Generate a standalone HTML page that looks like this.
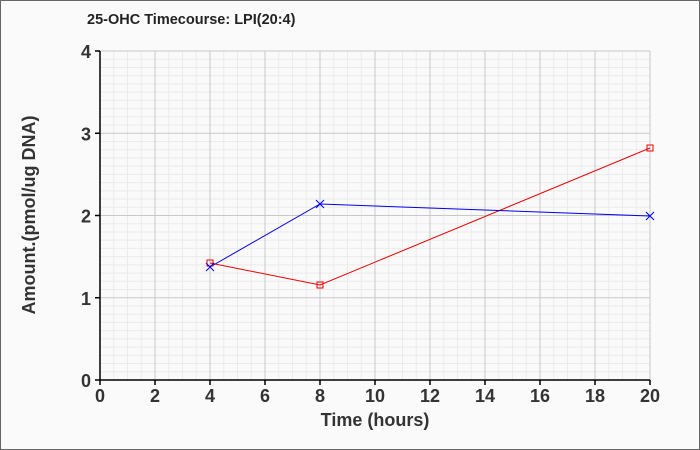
<!DOCTYPE html>
<html><head><meta charset="utf-8"><style>
html,body{margin:0;padding:0;background:#fafafa;}
svg{display:block;font-family:"Liberation Sans",Arial,sans-serif;}
</style></head><body>
<svg width="700" height="450" viewBox="0 0 700 450" xmlns="http://www.w3.org/2000/svg">
<rect x="0.5" y="0.5" width="699" height="449" fill="#fafafa" stroke="#666"/>
<g id="minor" stroke="#ebebeb" stroke-width="1"></g>
<g id="major" stroke="#c8c8c8" stroke-width="1"></g>
<g stroke="#000" stroke-width="1.5">
<line x1="100" y1="51" x2="100" y2="380"/>
<line x1="100" y1="380" x2="650" y2="380"/>
</g>
<g id="ticks" stroke="#000" stroke-width="1.5"></g>
<g id="labels" font-size="18" font-weight="bold" fill="#333"></g>
<text x="87" y="24" font-size="14.5" font-weight="bold" fill="#222">25-OHC Timecourse: LPI(20:4)</text>
<text x="375" y="426" font-size="18" font-weight="bold" fill="#333" text-anchor="middle">Time (hours)</text>
<text transform="translate(35,215) rotate(-90)" font-size="18" font-weight="bold" fill="#333" text-anchor="middle">Amount.(pmol/ug DNA)</text>
<polyline points="210,263 320,285 650,148" fill="none" stroke="#e00" stroke-width="1"/>
<polyline points="210,267 320,204 650,216" fill="none" stroke="#00e" stroke-width="1"/>
<g fill="none" stroke="#e00" stroke-width="1">
<rect x="207" y="260" width="6" height="6"/><rect x="317" y="282" width="6" height="6"/><rect x="647" y="145" width="6" height="6"/>
</g>
<g stroke="#00e" stroke-width="1">
<path d="M206,263l8,8M214,263l-8,8M316,200l8,8M324,200l-8,8M646,212l8,8M654,212l-8,8"/>
</g>
</svg>
<script>
var ns="http://www.w3.org/2000/svg";
function L(g,x1,y1,x2,y2){var l=document.createElementNS(ns,"line");l.setAttribute("x1",x1);l.setAttribute("y1",y1);l.setAttribute("x2",x2);l.setAttribute("y2",y2);document.getElementById(g).appendChild(l);}
function T(x,y,s,a){var t=document.createElementNS(ns,"text");t.setAttribute("x",x);t.setAttribute("y",y);t.setAttribute("text-anchor",a);t.textContent=s;document.getElementById("labels").appendChild(t);}
for(var i=1;i<=40;i++){var x=100+i*13.75;if(i%4)L("minor",x,51,x,380);}
for(var j=1;j<=40;j++){var y=380-j*8.225;if(j%10)L("minor",100,y,650,y);}
for(var i=1;i<=10;i++){var x=100+i*55;L("major",x,51,x,380);L("ticks",x,380,x,385);T(x,402,""+(2*i),"middle");}
for(var j=1;j<=4;j++){var y=380-j*82.25;L("major",100,y,650,y);}
for(var j=0;j<=4;j++){var y=380-j*82.25;L("ticks",95,y,100,y);T(91,y+7,""+j,"end");}
L("ticks",100,380,100,385);T(100,402,"0","middle");
</script>
</body></html>
